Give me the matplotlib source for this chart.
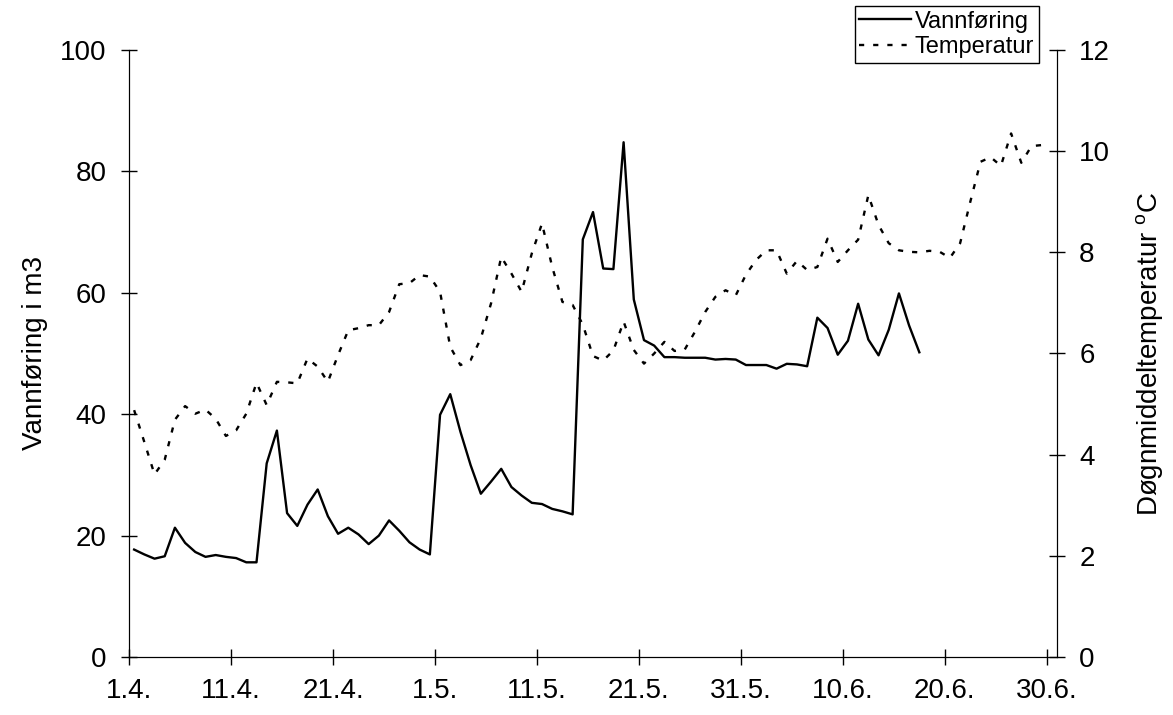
import numpy as np
import matplotlib
matplotlib.use("Agg")
import matplotlib.pyplot as plt

plt.rcParams['font.family'] = ['Liberation Sans', 'DejaVu Sans']
plt.rcParams['mathtext.fontset'] = 'custom'
plt.rcParams['mathtext.rm'] = 'Liberation Sans'

# x tick labels, one every 10 days from 1.4.
date_labels = ['1.4.', '11.4.', '21.4.', '1.5.', '11.5.', '21.5.', '31.5.', '10.6.', '20.6.', '30.6.']

# daily water flow (m3), from 1.4.
vannforing = [17.7, 16.9, 16.2, 16.6, 21.3, 18.8, 17.3, 16.5, 16.8, 16.5,
              16.3, 15.6, 15.6, 31.9, 37.3, 23.7, 21.6, 25.1, 27.6, 23.2,
              20.3, 21.3, 20.2, 18.6, 20.0, 22.5, 20.8, 18.9, 17.7, 16.9,
              39.9, 43.3, 37.1, 31.6, 26.9, 28.9, 31.0, 28.0, 26.6, 25.4,
              25.2, 24.4, 24.0, 23.5, 68.8, 73.3, 64.0, 63.9, 84.8, 58.9,
              52.2, 51.3, 49.4, 49.4, 49.3, 49.3, 49.3, 49.0, 49.1, 49.0,
              48.1, 48.1, 48.1, 47.5, 48.3, 48.2, 47.9, 55.9, 54.2, 49.8,
              52.1, 58.2, 52.3, 49.7, 53.9, 59.9, 54.6, 50.2]

# daily mean temperature (C), from 1.4.
temperatur = [4.88, 4.25, 3.61, 3.90, 4.69, 4.96, 4.81, 4.89, 4.71, 4.37,
              4.48, 4.81, 5.42, 4.98, 5.44, 5.43, 5.41, 5.90, 5.74, 5.44,
              5.97, 6.46, 6.50, 6.56, 6.56, 6.82, 7.37, 7.39, 7.55, 7.52,
              7.22, 6.13, 5.77, 5.87, 6.30, 6.99, 7.91, 7.58, 7.22, 7.98,
              8.57, 7.71, 7.02, 6.96, 6.57, 5.95, 5.86, 6.06, 6.63, 6.07,
              5.80, 6.00, 6.23, 6.05, 6.08, 6.43, 6.82, 7.12, 7.25, 7.15,
              7.56, 7.85, 8.04, 8.04, 7.58, 7.83, 7.65, 7.71, 8.27, 7.81,
              8.04, 8.25, 9.13, 8.54, 8.18, 8.04, 8.01, 8.00, 8.03, 8.01,
              7.89, 8.18, 9.00, 9.79, 9.88, 9.71, 10.35, 9.77, 10.10, 10.12]

n_days = 91

fig = plt.figure(figsize=(11.73, 7.15), dpi=100)
ax = fig.add_axes([0.110, 0.0811, 0.7911, 0.849])
ax2 = ax.twinx()

# each day sits in the middle of its category slot
x_flow = np.arange(len(vannforing)) + 0.5
x_temp = np.arange(len(temperatur)) + 0.5

l1, = ax.plot(x_flow, vannforing, color='black', lw=1.7, label='Vannføring')
l2, = ax2.plot(x_temp, temperatur, color='black', lw=1.7,
               linestyle=(0, (2.2, 3.8)), label='Temperatur')

ax.set_xlim(0, n_days)
ax.set_ylim(0, 100)
ax2.set_ylim(0, 12)
ax.set_xticks(np.arange(0, n_days, 10))
ax.set_xticklabels(date_labels)
ax.set_yticks(np.arange(0, 101, 20))
ax2.set_yticks(np.arange(0, 13, 2))

for a in (ax, ax2):
    a.spines['top'].set_visible(False)
    a.tick_params(direction='inout', length=12, width=1, labelsize=20, pad=10)
ax.tick_params(axis='x', pad=9)

ax.set_ylabel('Vannføring i m3', fontsize=20)
ax.yaxis.set_label_coords(-0.087, 0.5)
ax2.set_ylabel(r'Døgnmiddeltemperatur $^{\mathrm{o}}$C', fontsize=20)
ax2.yaxis.set_label_coords(1.083, 0.5)

leg = fig.legend([l1, l2], ['Vannføring', 'Temperatur'], loc='upper right',
                 bbox_to_anchor=(1039 / 1173, 1 - 6 / 715), bbox_transform=fig.transFigure,
                 fontsize=17, frameon=True, fancybox=False, framealpha=1,
                 borderaxespad=0, borderpad=0.2, labelspacing=0.15,
                 handlelength=2.2, handletextpad=0.15)
leg.get_frame().set_edgecolor('black')
leg.get_frame().set_linewidth(1)

fig.savefig('out.png', dpi=100)
